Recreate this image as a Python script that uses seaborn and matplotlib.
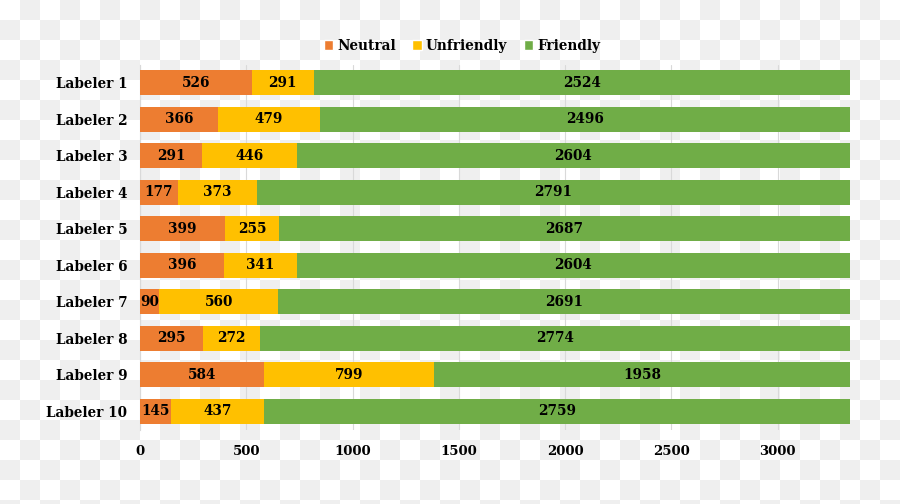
import numpy as np
import pandas as pd
import matplotlib
matplotlib.use("Agg")
import matplotlib.pyplot as plt
import seaborn as sns
from matplotlib.patches import Patch

# Data
labelers = [f"Labeler {i}" for i in range(1, 11)]
neutral = [526, 366, 291, 177, 399, 396, 90, 295, 584, 145]
unfriendly = [291, 479, 446, 373, 255, 341, 560, 272, 799, 437]
friendly = [2524, 2496, 2604, 2791, 2687, 2604, 2691, 2774, 1958, 2759]
x_ticks = [0, 500, 1000, 1500, 2000, 2500, 3000]

colors = {"Neutral": "#ED7D31", "Unfriendly": "#FFC000", "Friendly": "#70AD47"}

sns.set_style("white")
plt.rcParams['font.family'] = ['DejaVu Serif']
plt.rcParams['font.weight'] = 'bold'
plt.rcParams['text.color'] = 'black'
plt.rcParams['xtick.color'] = 'black'
plt.rcParams['ytick.color'] = 'black'

df = pd.DataFrame({"labeler": labelers, "Neutral": neutral,
                   "Unfriendly": unfriendly, "Friendly": friendly})
df["cum1"] = df["Neutral"]
df["cum2"] = df["Neutral"] + df["Unfriendly"]
df["cum3"] = df["cum2"] + df["Friendly"]

fig = plt.figure(figsize=(9, 5.04), dpi=100)

# checkerboard background
bg = fig.add_axes([0, 0, 1, 1], zorder=-10)
rows, cols = 26, 45
checker = (np.add.outer(np.arange(rows), np.arange(cols)) % 2).astype(float)
bg.imshow(checker, cmap=matplotlib.colors.ListedColormap(["#ffffff", "#efefef"]),
          extent=[0, 900, 520, 0], interpolation="nearest", aspect="auto")
bg.set_xlim(0, 900)
bg.set_ylim(504, 0)
bg.axis("off")

ax = fig.add_axes([140 / 900, 1 - 429.5 / 504, 710 / 900, 365 / 504])
ax.set_facecolor("none")

# stacked bars: draw cumulative totals back to front
for col, name, z in [("cum3", "Friendly", 2), ("cum2", "Unfriendly", 3), ("cum1", "Neutral", 4)]:
    sns.barplot(data=df, x=col, y="labeler", orient="h", color=colors[name],
                width=0.68, saturation=1, linewidth=0, ax=ax, zorder=z)

# value labels centred in each segment
for i, row in df.iterrows():
    starts = [0, row["cum1"], row["cum2"]]
    vals = [row["Neutral"], row["Unfriendly"], row["Friendly"]]
    for s, v in zip(starts, vals):
        ax.text(s + v / 2, i, str(v), ha="center", va="center",
                fontsize=9.8, fontweight="bold", color="black", zorder=5)

ax.set_xlim(0, df["cum3"].max())
ax.set_ylim(9.5, -0.5)
ax.set_xticks(x_ticks)
ax.set_xlabel("")
ax.set_ylabel("")
ax.grid(axis="x", color="#d9d9d9", linewidth=0.8, zorder=0)
ax.set_axisbelow(True)
for side in ["top", "right", "bottom"]:
    ax.spines[side].set_visible(False)
ax.spines["left"].set_color("#d9d9d9")
ax.tick_params(axis="y", length=0, pad=9, labelsize=9.8)
ax.tick_params(axis="x", length=0, pad=11, labelsize=9.5)

handles = [Patch(facecolor=colors[k], label=k) for k in ["Neutral", "Unfriendly", "Friendly"]]
fig.legend(handles=handles, loc="center", bbox_to_anchor=(462 / 900, 1 - 46 / 504),
           ncol=3, frameon=False, fontsize=9.8, handlelength=0.7, handleheight=0.7,
           handletextpad=0.3, columnspacing=1.2)

fig.savefig("out.png", dpi=100)
